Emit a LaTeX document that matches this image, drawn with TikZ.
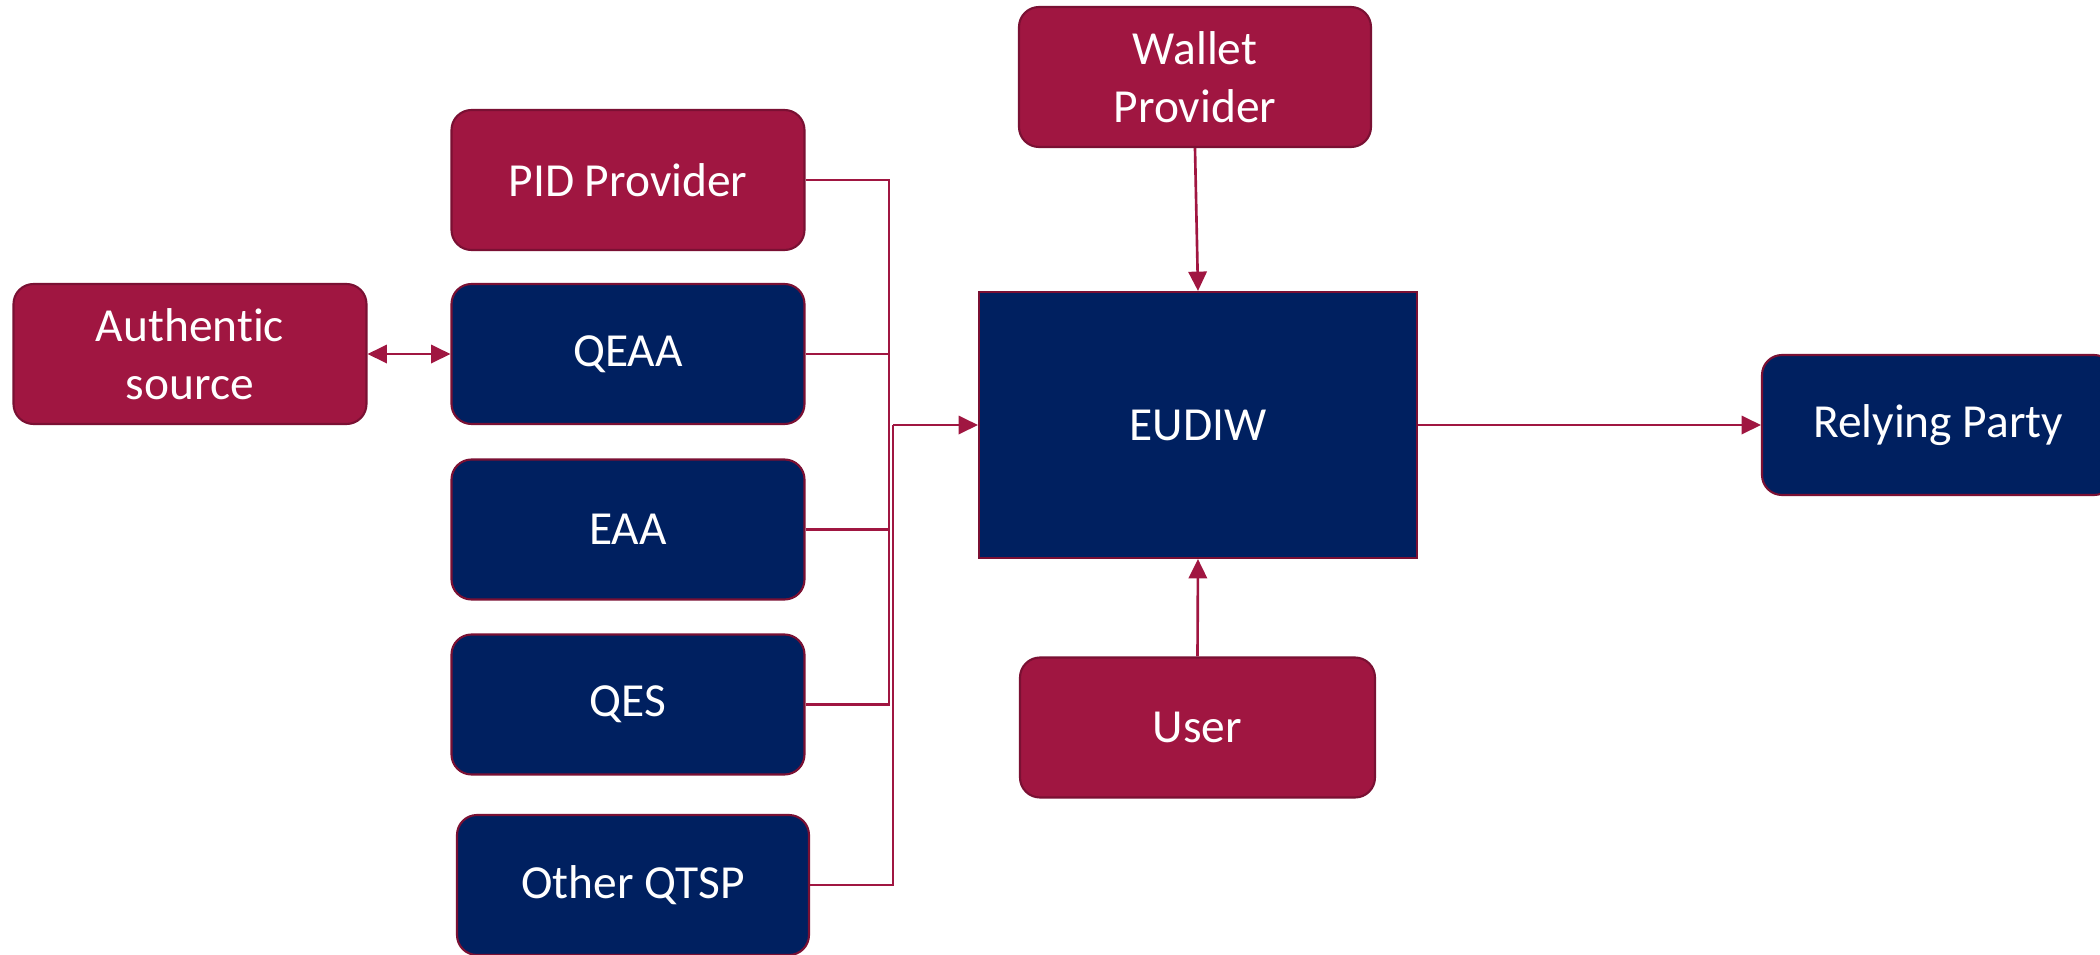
\documentclass[tikz,border=0pt]{standalone}
\usepackage{fontspec}
\setmainfont{Carlito}[Ligatures=NoCommon]
\usetikzlibrary{arrows.meta}
\definecolor{eured}{HTML}{A01641}
\definecolor{eudark}{HTML}{7A1033}
\definecolor{eublue}{HTML}{002060}
\tikzset{
    party/.style={draw=eudark, line width=0.6pt, rounded corners=0.2cm,
        minimum width=3.53cm, minimum height=1.40cm, text=white, align=center,
        font=\fontsize{13.5}{16.5}\selectfont},
    redbox/.style={party, fill=eured},
    bluebox/.style={party, fill=eublue},
    link/.style={draw=eured, line width=0.75pt},
    head/.tip={Triangle[length=5.5pt,width=5.2pt]},
    tip/.style={-head},
}
\newcommand\FeedLine[2]{%
    \draw[link] (#1.east) -- (#1.east -| #2);
}

\begin{document}
\begin{tikzpicture}
    \useasboundingbox (0,0) rectangle (21,-9.55);
    % issuers
    \node[redbox]  (pid)   at (6.28,-1.80) {PID Provider};
    \node[bluebox] (qeaa)  at (6.28,-3.54) {QEAA};
    \node[bluebox] (eaa)   at (6.28,-5.295) {EAA};
    \node[bluebox] (qes)   at (6.28,-7.045) {QES};
    \node[bluebox, minimum width=3.52cm] (other) at (6.33,-8.85) {Other QTSP};
    \node[redbox]  (auth)  at (1.90,-3.54) {Authentic\\source};
    % wallet
    \node[redbox, minimum width=3.52cm] (wallet) at (11.95,-0.77) {Wallet\\Provider};
    \node[bluebox, rounded corners=0pt, minimum width=4.38cm, minimum height=2.66cm] (eudiw) at (11.98,-4.25) {EUDIW};
    \node[redbox, minimum width=3.55cm] (user) at (11.975,-7.275) {User};
    \node[bluebox, minimum width=3.52cm] (rp) at (19.38,-4.25) {Relying Party};
    \coordinate (busA) at (8.89,0);
    \coordinate (busB) at (8.93,0);
    % connectors
    \draw[link] (pid.east) -- (pid.east -| busA) -- (qes.east -| busA) -- (qes.east);
    \FeedLine{qeaa}{busA}
    \FeedLine{eaa}{busA}
    \draw[link] (other.east) -- (other.east -| busB) -- (eudiw.west -| busB);
    \draw[link,tip] (eudiw.west -| busB) -- (eudiw.west);
    \draw[link,head-head] (auth.east) -- (qeaa.west);
    \draw[link,tip] (wallet.south) -- (eudiw.north);
    \draw[link,tip] (user.north) -- (eudiw.south);
    \draw[link,tip] (eudiw.east) -- (rp.west);
\end{tikzpicture}
\end{document}
